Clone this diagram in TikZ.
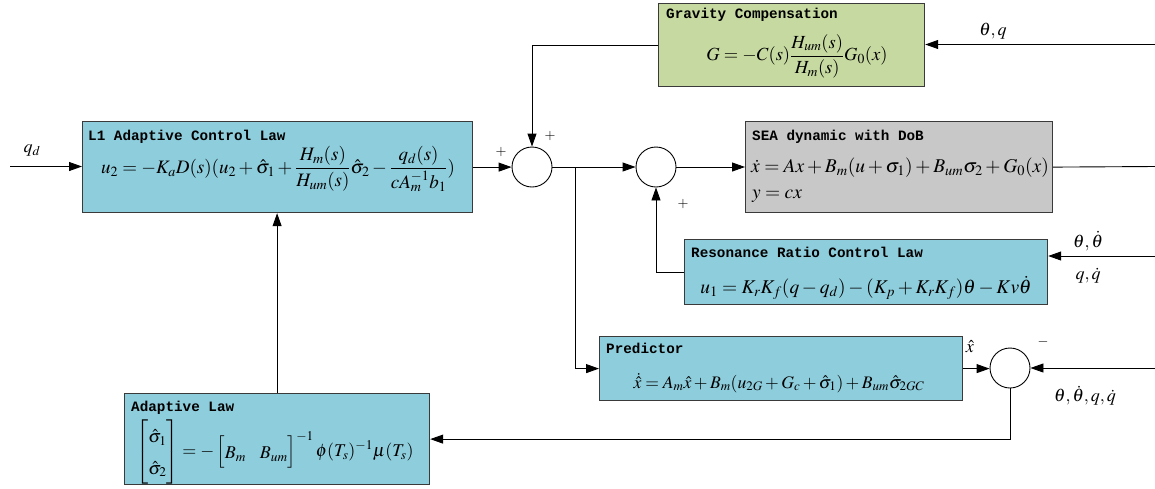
\documentclass[tikz,border=0pt]{standalone}
\usepackage{amsmath}
\usepackage{mathptmx}
\usepackage{fontspec}
\setmainfont{Liberation Serif}
\newfontfamily\ttlfont{Liberation Mono}
\usetikzlibrary{arrows.meta}
\definecolor{boxblue}{HTML}{8ECDDC}
\definecolor{boxgreen}{HTML}{C6D9A0}
\definecolor{boxgray}{HTML}{C8C8C8}
\definecolor{edge}{HTML}{3A3A3A}
\tikzset{
  blk/.style={draw=edge, line width=1.2pt, inner sep=0pt, anchor=north west},
  ttl/.style={anchor=west, inner sep=0pt, font=\ttlfont\bfseries\fontsize{14.3}{15}\selectfont},
  eq/.style={inner sep=0pt, font=\fontsize{19}{22}\selectfont},
  lbl/.style={inner sep=0pt, font=\fontsize{18}{21}\selectfont},
  sgn/.style={inner sep=0pt, font=\fontsize{14}{16}\selectfont},
  sumnode/.style={circle, draw=black, line width=0.9pt, minimum size=40pt, inner sep=0pt, fill=white},
  arr/.style={draw=black, line width=0.9pt, -{Triangle[length=13pt,width=9pt]}},
  ln/.style={draw=black, line width=0.9pt},
}
\begin{document}
\begin{tikzpicture}[x=1pt,y=-1pt]
\useasboundingbox (0,0) rectangle (1155,488);
% boxes
\node[blk, fill=boxblue, minimum width=390pt, minimum height=91pt] (l1) at (82,121) {};
\node[blk, fill=boxgreen, minimum width=266pt, minimum height=83pt] (grav) at (658,3) {};
\node[blk, fill=boxgray, minimum width=307pt, minimum height=91pt] (sea) at (745,121) {};
\node[blk, fill=boxblue, minimum width=363pt, minimum height=65pt] (res) at (684,239) {};
\node[blk, fill=boxblue, minimum width=363pt, minimum height=64pt] (pred) at (599,336) {};
\node[blk, fill=boxblue, minimum width=305pt, minimum height=91pt] (adapt) at (124,393) {};
% titles
\node[ttl] (t1) at (88,137) {L1 Adaptive Control Law};
\node[ttl] (t2) at (666,15) {Gravity Compensation};
\node[ttl] (t3) at (752,137) {SEA dynamic with DoB};
\node[ttl] (t4) at (691,252) {Resonance Ratio Control Law};
\node[ttl] (t5) at (606,348) {Predictor};
\node[ttl] (t6) at (131,408) {Adaptive Law};
% equations
\node[eq] (e1) at (278,169) {$u_2=-K_aD(s)(u_2+\hat\sigma_1+\dfrac{H_m(s)}{H_{um}(s)}\hat\sigma_2-\dfrac{q_d(s)}{cA_m^{-1}b_1})$};
\node[eq, font=\fontsize{18.5}{22}\selectfont] (e2) at (797,56) {$G=-C(s)\dfrac{H_{um}(s)}{H_m(s)}G_0(x)$};
\node[eq, anchor=west, font=\fontsize{19.5}{22}\selectfont] (e3) at (751,168) {$\dot x=Ax+B_m(u+\sigma_1)+B_{um}\sigma_2+G_0(x)$};
\node[eq, anchor=west, font=\fontsize{19.5}{22}\selectfont] (e4) at (752,196) {$y=cx$};
\node[eq, font=\fontsize{19.5}{22}\selectfont] (e5) at (866,288) {$u_1=K_rK_f(q-q_d)-(K_p+K_rK_f)\theta-Kv\dot\theta$};
\node[eq, font=\fontsize{17.6}{21}\selectfont] (e6) at (779,383) {$\dot{\hat x}=A_m\hat x+B_m(u_{2G}+G_c+\hat\sigma_1)+B_{um}\hat\sigma_{2GC}$};
\node[eq, font=\fontsize{18}{21}\selectfont] (e7) at (275,452) {$\renewcommand{\arraystretch}{1.5}\begin{bmatrix}\hat\sigma_1\\ \hat\sigma_2\end{bmatrix}=-\begin{bmatrix}B_m & \;B_{um}\end{bmatrix}^{-1}\phi(T_s)^{-1}\mu(T_s)$};
% summing junctions
\node[sumnode] (s1) at (532,167) {};
\node[sumnode] (s2) at (656,167) {};
\node[sumnode] (s3) at (1010,368) {};
% free ends
\coordinate (qin) at (10,166.5);
\coordinate (gin) at (1155,44.5);
\coordinate (sout) at (1155,166.5);
\coordinate (rin) at (1155,256);
\coordinate (pin) at (1155,368);
\coordinate (br) at (575,167);
% connectors
\draw[arr] (qin) -- (qin -| l1.west);
\draw[arr] (l1.east) -- (l1.east -| s1.west);
\draw[arr] (grav.west) -| (s1.north);
\draw[arr] (gin) -- (gin -| grav.east);
\draw[arr] (s1.east) -- (s2.west);
\draw[arr] (br) |- (pred.west);
\draw[arr] (s2.east) -- (s2.east -| sea.west);
\draw[ln] (sea.east) -- (sout);
\draw[arr] (res.west) -| (s2.south);
\draw[arr] (rin) -- (rin -| res.east);
\draw[arr] (pred.east) -- (pred.east -| s3.west);
\draw[arr] (pin) -- (s3.east);
\draw[arr] (s3.south) |- (adapt.east);
\draw[arr] (adapt.north) -- (adapt.north |- l1.south);
% labels
\node[lbl] (lq) at (32,150) {$q_d$};
\node[lbl] (lg) at (993,31) {$\theta,q$};
\node[lbl] (lr1) at (1088,241) {$\theta,\dot\theta$};
\node[lbl] (lr2) at (1088,276) {$q,\dot q$};
\node[lbl] (lx) at (970,347) {$\hat x$};
\node[lbl] (lp) at (1085,396) {$\theta,\dot\theta,q,\dot q$};
\node[sgn] (p1) at (501,152) {$+$};
\node[sgn] (p2) at (550,136) {$+$};
\node[sgn] (p3) at (683,204) {$+$};
\node[sgn] (m1) at (1043,342) {$-$};
\end{tikzpicture}
\end{document}
